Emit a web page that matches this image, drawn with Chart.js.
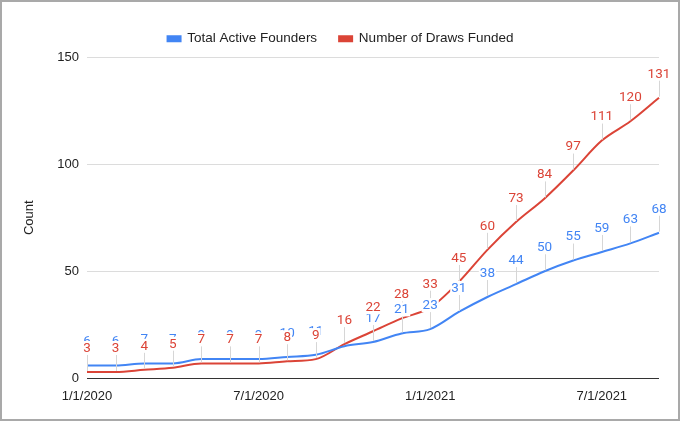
<!DOCTYPE html>
<html>
<head>
<meta charset="utf-8">
<script src="https://cdn.jsdelivr.net/npm/chart.js@4"></script>
<style>
  html, body { margin: 0; padding: 0; background: #fff; }
  #wrap { position: relative; width: 680px; height: 421px; }
  #frame { position: absolute; left: 0; top: 0; width: 680px; height: 421px; box-sizing: border-box; border: 2px solid #a9a9a9; pointer-events: none; }
</style>
</head>
<body>
<div id="wrap">
  <canvas id="c"></canvas>
  <div id="frame"></div>
</div>
<script>
// ---- data ----
const categories = [
  '1/1/2020','2/1/2020','3/1/2020','4/1/2020','5/1/2020','6/1/2020',
  '7/1/2020','8/1/2020','9/1/2020','10/1/2020','11/1/2020','12/1/2020',
  '1/1/2021','2/1/2021','3/1/2021','4/1/2021','5/1/2021','6/1/2021',
  '7/1/2021','8/1/2021','9/1/2021'
];
const totalActiveFounders = [6, 6, 7, 7, 9, 9, 9, 10, 11, 15, 17, 21, 23, 31, 38, 44, 50, 55, 59, 63, 68];
const numberOfDrawsFunded = [3, 3, 4, 5, 7, 7, 7, 8, 9, 16, 22, 28, 33, 45, 60, 73, 84, 97, 111, 120, 131];
const xTickLabels = ['1/1/2020', '7/1/2020', '1/1/2021', '7/1/2021'];
const yTicks = [0, 50, 100, 150];

const BLUE = '#4285F4';
const RED = '#DB4437';
const AXIS_FONT = "Arial, 'Liberation Sans', sans-serif";

// value labels with stems (Google-style annotations)
const valueLabelPlugin = {
  id: 'valueLabels',
  afterDatasetsDraw(chart, args, opts) {
    const ctx = chart.ctx;
    const hidden = opts.hidden || {};
    const offset = 24;
    ctx.save();
    // stems
    chart.data.datasets.forEach((ds, di) => {
      const meta = chart.getDatasetMeta(di);
      meta.data.forEach((pt, i) => {
        if ((hidden[di] || []).includes(i)) return;
        const x = Math.round(pt.x) + 0.5;
        ctx.strokeStyle = '#d6d6d6';
        ctx.lineWidth = 1;
        ctx.beginPath();
        ctx.moveTo(x, pt.y - 1);
        ctx.lineTo(x, pt.y - offset + 6);
        ctx.stroke();
      });
    });
    // labels
    ctx.font = "13.5px Roboto, Arial, sans-serif";
    ctx.textAlign = 'center';
    ctx.textBaseline = 'middle';
    chart.data.datasets.forEach((ds, di) => {
      const meta = chart.getDatasetMeta(di);
      meta.data.forEach((pt, i) => {
        if ((hidden[di] || []).includes(i)) return;
        const txt = String(ds.data[i]);
        const w = ctx.measureText(txt).width;
        const cy = pt.y - offset;
        ctx.fillStyle = '#fff';
        ctx.fillRect(pt.x - w / 2 - 1, cy - 7, w + 2, 14);
        ctx.fillStyle = ds.borderColor;
        ctx.fillText(txt, pt.x, cy + 0.5);
      });
    });
    ctx.restore();
  }
};

const legendLayoutPlugin = {
  id: 'legendLayout',
  beforeLayout(chart) {
    const lg = chart.legend;
    if (lg && !lg._patched) {
      const orig = lg.fit;
      lg.fit = function () { orig.call(this); this.height = 47; };
      lg._patched = true;
    }
  },
  afterLayout(chart) {
    const lg = chart.legend;
    if (lg) { lg.left += 11; lg.right += 11; }
  }
};

new Chart(document.getElementById('c'), {
  type: 'line',
  data: {
    labels: categories,
    datasets: [
      {
        label: 'Total Active Founders',
        data: totalActiveFounders,
        borderColor: BLUE,
        backgroundColor: BLUE,
        borderWidth: 2,
        pointRadius: 0,
        cubicInterpolationMode: 'monotone'
      },
      {
        label: 'Number of Draws Funded',
        data: numberOfDrawsFunded,
        borderColor: RED,
        backgroundColor: RED,
        borderWidth: 2,
        pointRadius: 0,
        cubicInterpolationMode: 'monotone'
      }
    ]
  },
  options: {
    responsive: true,
    maintainAspectRatio: false,
    animation: false,
    layout: { padding: { top: 10, right: 21, bottom: 7, left: 0 } },
    plugins: {
      legend: {
        position: 'top',
        labels: {
          boxWidth: 13,
          boxHeight: 5,
          padding: 22,
          color: '#222',
          font: { size: 13.5, family: AXIS_FONT }
        }
      },
      tooltip: { enabled: false },
      valueLabels: { hidden: { 0: [9] } }
    },
    scales: {
      x: {
        type: 'category',
        offset: false,
        grid: { display: false, drawTicks: false },
        border: { display: false },
        ticks: {
          autoSkip: false,
          maxRotation: 0,
          padding: 10,
          color: '#222',
          font: { size: 13, family: AXIS_FONT },
          callback: function (v, i) {
            const l = categories[i];
            return xTickLabels.includes(l) ? l : '';
          }
        }
      },
      y: {
        min: 0,
        max: 150,
        afterFit(scale) { scale.width = 87; },
        afterBuildTicks(scale) { scale.ticks = yTicks.map(v => ({ value: v })); },
        grid: {
          drawTicks: false,
          color: ctx => (ctx.tick && ctx.tick.value === 0) ? '#333' : '#dcdcdc'
        },
        border: { display: false },
        ticks: {
          padding: 8,
          color: '#222',
          font: { size: 13, family: AXIS_FONT }
        },
        title: {
          display: true,
          text: 'Count',
          color: '#222',
          font: { size: 13, family: AXIS_FONT },
          padding: { top: 22, bottom: 0 }
        }
      }
    }
  },
  plugins: [valueLabelPlugin, legendLayoutPlugin]
});
</script>
</body>
</html>
